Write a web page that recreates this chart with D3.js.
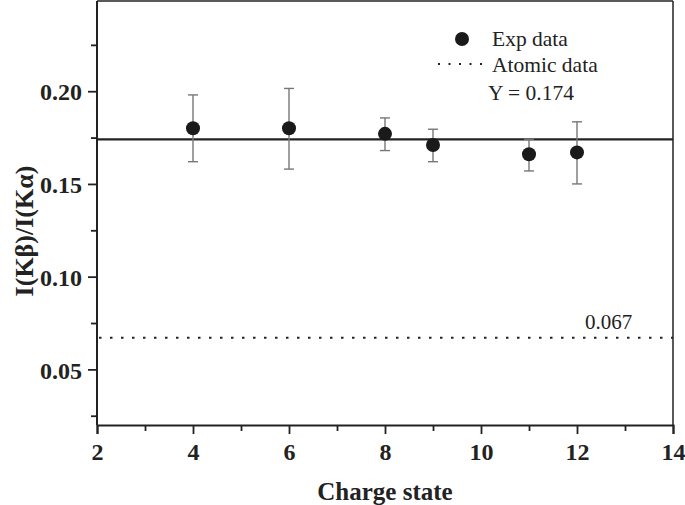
<!DOCTYPE html>
<html><head><meta charset="utf-8">
<script src="https://cdn.jsdelivr.net/npm/d3@7"></script>
<style>body{margin:0;background:#fff}svg{display:block}</style>
</head><body>
<svg id="c" width="685" height="505"></svg>
<script>
const chargeStates = [4, 6, 8, 9, 11, 12];
const ratioValues = [0.180, 0.180, 0.177, 0.171, 0.166, 0.167];
const errLow = [0.162, 0.158, 0.168, 0.162, 0.157, 0.150];
const errHigh = [0.198, 0.2015, 0.1856, 0.1795, 0.1741, 0.1835];
const fitValue = 0.174;
const atomicValue = 0.067;
const xTicks = [2, 4, 6, 8, 10, 12, 14];
const yTicks = [0.05, 0.10, 0.15, 0.20];

const svg = d3.select("#c");
const L = 97, R = 673, T = 1, B = 425;
const x = d3.scaleLinear().domain([2, 14]).range([L, R]);
const y = d3.scaleLinear().domain([0.02, 0.25]).range([B, -1.5]);
const serif = "'Liberation Serif','Times New Roman',serif";

// frame top/right
svg.append("line").attr("x1", L).attr("x2", R).attr("y1", T).attr("y2", T).attr("stroke", "#222").attr("stroke-width", 1.5);
svg.append("line").attr("x1", R).attr("x2", R).attr("y1", T).attr("y2", B).attr("stroke", "#222").attr("stroke-width", 1.5);

// x axis
const xMinor = d3.axisBottom(x).tickValues([3,5,7,9,11,13]).tickSize(6).tickFormat("");
const gxm = svg.append("g").attr("transform", `translate(0,${B})`).call(xMinor);
const xAxis = d3.axisBottom(x).tickValues(xTicks).tickSize(9).tickPadding(9).tickFormat(d3.format("d"));
const gx = svg.append("g").attr("transform", `translate(0,${B})`).call(xAxis);
// y axis
const yMinor = d3.axisLeft(y).tickValues([0.025,0.075,0.125,0.175,0.225]).tickSize(6).tickFormat("");
const gym = svg.append("g").attr("transform", `translate(${L},0)`).call(yMinor);
const yAxis = d3.axisLeft(y).tickValues(yTicks).tickSize(9).tickPadding(6).tickFormat(d3.format(".2f"));
const gy = svg.append("g").attr("transform", `translate(${L},0)`).call(yAxis);

[gx, gy, gxm, gym].forEach(g => {
  g.select(".domain").attr("stroke", "#222").attr("stroke-width", 2);
  g.selectAll(".tick line").attr("stroke", "#222").attr("stroke-width", 1.8);
  g.selectAll("text").attr("font-family", serif).attr("font-weight", "bold").attr("font-size", 24).attr("fill", "#222");
});
gy.selectAll("text").attr("dy", "0.36em");
gxm.select(".domain").remove(); gym.select(".domain").remove();
gy.select(".domain").attr("d", `M0,${B}V${T}`);

// reference lines
svg.append("line").attr("x1", L).attr("x2", R).attr("y1", y(fitValue)).attr("y2", y(fitValue))
  .attr("stroke", "#222").attr("stroke-width", 2.2);
svg.append("line").attr("x1", L + 2).attr("x2", R).attr("y1", y(atomicValue)).attr("y2", y(atomicValue))
  .attr("stroke", "#222").attr("stroke-width", 2).attr("stroke-dasharray", "2.5 8.5");

// error bars
const pts = chargeStates.map((c, i) => ({c, v: ratioValues[i], lo: errLow[i], hi: errHigh[i]}));
const eb = svg.append("g").attr("stroke", "#777").attr("stroke-width", 1.4);
pts.forEach(p => {
  eb.append("line").attr("x1", x(p.c)).attr("x2", x(p.c)).attr("y1", y(p.lo)).attr("y2", y(p.hi));
  eb.append("line").attr("x1", x(p.c) - 5).attr("x2", x(p.c) + 5).attr("y1", y(p.lo)).attr("y2", y(p.lo));
  eb.append("line").attr("x1", x(p.c) - 5).attr("x2", x(p.c) + 5).attr("y1", y(p.hi)).attr("y2", y(p.hi));
});
svg.append("g").selectAll("circle").data(pts).join("circle")
  .attr("cx", d => x(d.c)).attr("cy", d => y(d.v)).attr("r", 7).attr("fill", "#1a1a1a");

// legend
const lf = 21.5;
svg.append("circle").attr("cx", 462).attr("cy", 39).attr("r", 7).attr("fill", "#1a1a1a");
svg.append("text").attr("x", 492).attr("y", 46).text("Exp data")
  .attr("font-family", serif).attr("font-size", lf).attr("fill", "#222");
svg.append("line").attr("x1", 438).attr("x2", 490).attr("y1", 64).attr("y2", 64)
  .attr("stroke", "#222").attr("stroke-width", 2).attr("stroke-dasharray", "2 8.5");
svg.append("text").attr("x", 492).attr("y", 72).text("Atomic data")
  .attr("font-family", serif).attr("font-size", lf).attr("fill", "#222");
svg.append("text").attr("x", 488).attr("y", 100).text("Y = 0.174")
  .attr("font-family", serif).attr("font-size", lf).attr("fill", "#222");
svg.append("text").attr("x", 585).attr("y", 329).text("0.067")
  .attr("font-family", serif).attr("font-size", 21).attr("fill", "#222");

// titles
svg.append("text").attr("x", 385).attr("y", 500).attr("text-anchor", "middle")
  .attr("font-family", serif).attr("font-weight", "bold").attr("font-size", 25).attr("fill", "#222").text("Charge state");
svg.append("text").attr("transform", `translate(33,231) rotate(-90)`).attr("text-anchor", "middle")
  .attr("font-family", serif).attr("font-weight", "bold").attr("font-size", 26).attr("fill", "#222").text("I(Kβ)/I(Kα)");
</script>
</body></html>
